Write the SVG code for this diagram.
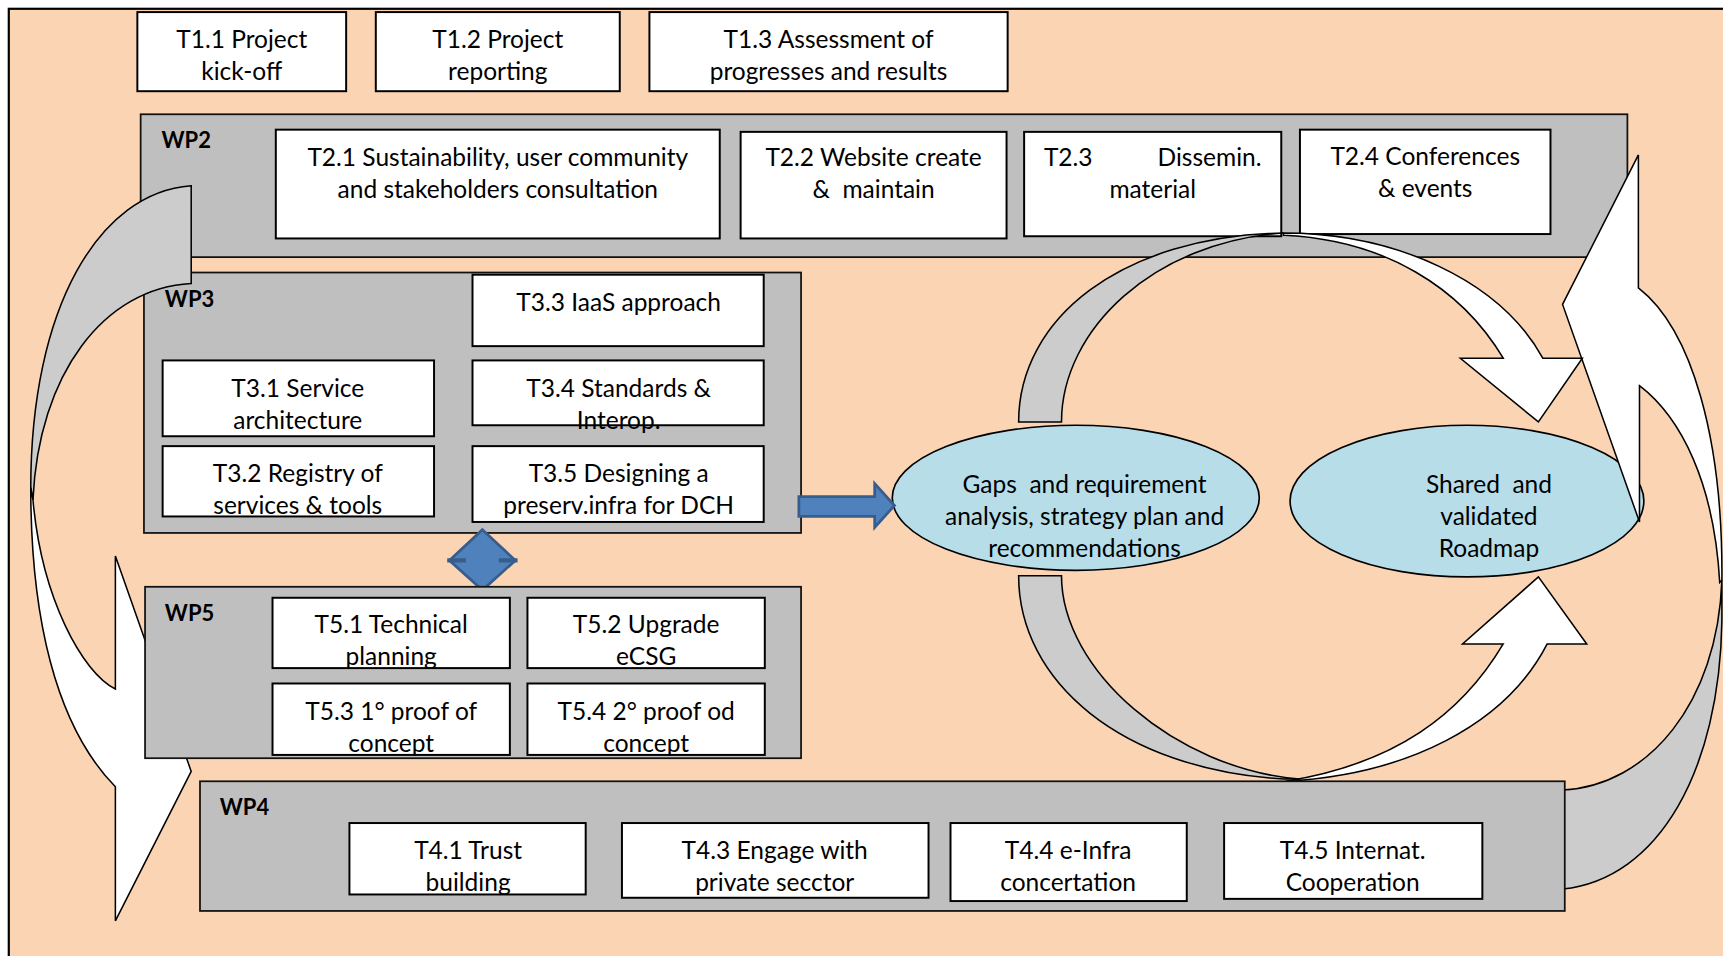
<svg xmlns="http://www.w3.org/2000/svg" width="1723" height="956" viewBox="0 0 1723 956">
<defs>
<style>
.bg{fill:#FBD4B4;stroke:#000;stroke-width:2}
.wp{fill:#BFBFBF;stroke:#111;stroke-width:1.6}
.task{fill:#fff;stroke:#000;stroke-width:1.8}
.ell{fill:#B7DDE8;stroke:#000;stroke-width:1.5}
.band{fill:#CCCCCC;stroke:#000;stroke-width:1.4}
.warrow{fill:#fff;stroke:#000;stroke-width:1.4}
.blue{fill:#4F81BD;stroke:#385D8A;stroke-width:2.5}
.t{font-family:Lato,"Liberation Sans",sans-serif;font-size:22.3px;fill:#000;text-anchor:middle;white-space:pre}
.wpl{font-family:Lato,"Liberation Sans",sans-serif;font-size:20px;font-weight:bold;fill:#000}
</style>
</defs>
<g transform="scale(1.098852)">
<rect class="bg" x="8" y="8" width="1600" height="900"/>

<g id="T1.1"><rect class="task" x="125" y="11" width="190" height="72"/><text class="t" x="220" y="44">T1.1 Project</text><text class="t" x="220" y="73">kick-off</text></g>
<g id="T1.2"><rect class="task" x="342" y="11" width="222" height="72"/><text class="t" x="453" y="44">T1.2 Project</text><text class="t" x="453" y="73">reporting</text></g>
<g id="T1.3"><rect class="task" x="591" y="11" width="326" height="72"/><text class="t" x="754" y="44">T1.3 Assessment of</text><text class="t" x="754" y="73">progresses and results</text></g>

<g id="WP2">
<rect class="wp" x="128" y="104" width="1353" height="130"/>
<text class="wpl" x="147" y="135">WP2</text>
<g id="T2.1"><rect class="task" x="251" y="118" width="404" height="99"/><text class="t" x="453" y="151">T2.1 Sustainability, user community</text><text class="t" x="453" y="180">and stakeholders consultation</text></g>
<g id="T2.2"><rect class="task" x="674" y="120" width="242" height="97"/><text class="t" x="795" y="151">T2.2 Website create</text><text class="t" x="795" y="180">&amp;  maintain</text></g>
<g id="T2.3"><rect class="task" x="932" y="120" width="234" height="95"/><text class="t" x="950" y="151" style="text-anchor:start">T2.3</text><text class="t" x="1148" y="151" style="text-anchor:end">Dissemin.</text><text class="t" x="1049" y="180">material</text></g>
<g id="T2.4"><rect class="task" x="1183" y="118" width="228" height="95"/><text class="t" x="1297" y="150">T2.4 Conferences</text><text class="t" x="1297" y="179">&amp; events</text></g>
</g>

<g id="WP3">
<rect class="wp" x="131" y="248" width="598" height="237"/>
<text class="wpl" x="150" y="279">WP3</text>
<g id="T3.3"><rect class="task" x="430" y="250" width="265" height="65"/><text class="t" x="563" y="283">T3.3 IaaS approach</text></g>
<g id="T3.1"><rect class="task" x="148" y="328" width="247" height="69"/><text class="t" x="271" y="361">T3.1 Service</text><text class="t" x="271" y="390">architecture</text></g>
<g id="T3.4"><rect class="task" x="430" y="328" width="265" height="59"/><text class="t" x="563" y="361">T3.4 Standards &amp;</text><text class="t" x="563" y="390">Interop.</text></g>
<g id="T3.2"><rect class="task" x="148" y="406" width="247" height="64"/><text class="t" x="271" y="439">T3.2 Registry of</text><text class="t" x="271" y="468">services &amp; tools</text></g>
<g id="T3.5"><rect class="task" x="430" y="406" width="265" height="69"/><text class="t" x="563" y="439">T3.5 Designing a</text><text class="t" x="563" y="468">preserv.infra for DCH</text></g>
</g>

<g id="gaps">
<ellipse class="ell" cx="979" cy="453" rx="167" ry="66"/>
<text class="t" x="987" y="449">Gaps  and requirement</text><text class="t" x="987" y="478">analysis, strategy plan and</text><text class="t" x="987" y="507">recommendations</text>
</g>
<g id="roadmap">
<ellipse class="ell" cx="1335" cy="456" rx="161" ry="69"/>
<text class="t" x="1355" y="449">Shared  and</text><text class="t" x="1355" y="478">validated</text><text class="t" x="1355" y="507">Roadmap</text>
</g>

<g id="connectors">
<path class="band" d="M174,169 L174,258 C95,262 35,340 30,455 L28,444 C28,280 90,175 174,169 Z"/>
<path class="warrow" d="M28,444 C28,560 50,660 105,716 L105,838 L174,702 L105,506 L105,627 C75,612 38,545 30,455 Z"/>
<path class="band" d="M1422,719 L1422,809 C1510,800 1565,700 1567,565 L1567,528 C1563,640 1500,715 1422,719 Z"/>
<path class="warrow" d="M1491,141 L1491,262 C1540,300 1568,400 1567,528 L1565,530 C1560,440 1530,380 1492,351 L1492,475 L1422,277 Z"/>
<path class="band" d="M927,384 C927,290 1020,215 1168,212 C1050,220 966,300 966,384 Z"/>
<path class="warrow" d="M1168,212 C1270,212 1365,255 1404,326 L1440,326 L1400,384 L1329,326 L1368,326 C1330,262 1260,218 1168,214 Z"/>
<path class="band" d="M927,524 L966,524 C966,610 1070,700 1183,709 L1168,709 C1020,700 927,620 927,524 Z"/>
<path class="warrow" d="M1170,711 C1280,705 1370,660 1408,586 L1444,586 L1400,525 L1331,586 L1368,586 C1330,650 1270,695 1170,711 Z"/>
<polygon class="blue" points="727,452 796,452 796,440 814,460 796,480 796,470 727,470"/>
<polygon class="blue" points="439,482 469,510 439,537 409,510"/>
<path d="M407,510 H424 M454,510 H471" stroke="#385D8A" stroke-width="4" fill="none"/>
</g>

<g id="WP5">
<rect class="wp" x="132" y="534" width="597" height="156"/>
<text class="wpl" x="150" y="565">WP5</text>
<g id="T5.1"><rect class="task" x="248" y="544" width="216" height="64"/><text class="t" x="356" y="576">T5.1 Technical</text><text class="t" x="356" y="605">planning</text></g>
<g id="T5.2"><rect class="task" x="480" y="544" width="216" height="64"/><text class="t" x="588" y="576">T5.2 Upgrade</text><text class="t" x="588" y="605">eCSG</text></g>
<g id="T5.3"><rect class="task" x="248" y="622" width="216" height="65"/><text class="t" x="356" y="655">T5.3 1° proof of</text><text class="t" x="356" y="684">concept</text></g>
<g id="T5.4"><rect class="task" x="480" y="622" width="216" height="65"/><text class="t" x="588" y="655">T5.4 2° proof od</text><text class="t" x="588" y="684">concept</text></g>
</g>

<g id="WP4">
<rect class="wp" x="182" y="711" width="1242" height="118"/>
<text class="wpl" x="200" y="742">WP4</text>
<g id="T4.1"><rect class="task" x="318" y="749" width="215" height="65"/><text class="t" x="426" y="782">T4.1 Trust</text><text class="t" x="426" y="811">building</text></g>
<g id="T4.3"><rect class="task" x="566" y="749" width="279" height="68"/><text class="t" x="705" y="782">T4.3 Engage with</text><text class="t" x="705" y="811">private secctor</text></g>
<g id="T4.4"><rect class="task" x="865" y="749" width="215" height="71"/><text class="t" x="972" y="782">T4.4 e-Infra</text><text class="t" x="972" y="811">concertation</text></g>
<g id="T4.5"><rect class="task" x="1114" y="749" width="235" height="69"/><text class="t" x="1231" y="782">T4.5 Internat.</text><text class="t" x="1231" y="811">Cooperation</text></g>
</g>
</g>
</svg>
